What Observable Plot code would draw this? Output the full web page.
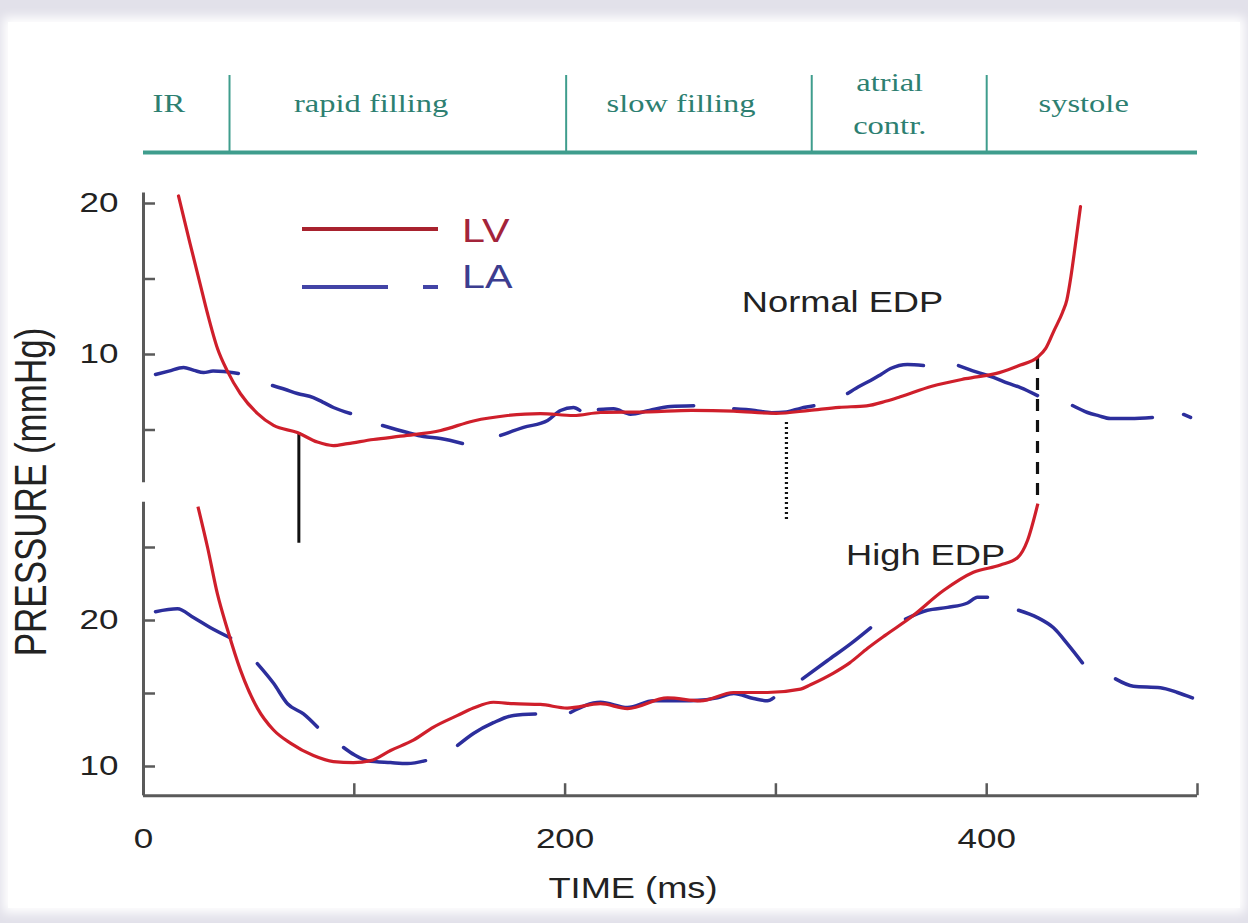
<!DOCTYPE html>
<html>
<head>
<meta charset="utf-8">
<script src="https://cdn.jsdelivr.net/npm/d3@7"></script>
<script src="https://cdn.jsdelivr.net/npm/@observablehq/plot@0.6"></script>
<style>
  html, body { margin: 0; padding: 0; background: #e2e1ea; }
  #frame { position: relative; width: 1248px; height: 923px; overflow: hidden; background: #e2e1ea; }
  #paper { position: absolute; left: 8px; top: 22px; width: 1232px; height: 886px; background: #fff; box-shadow: 0 0 10px 5px #fff; }
  .layer { position: absolute; left: 0; top: 0; }
  .t { position: absolute; font-family: "Liberation Sans", Arial, sans-serif; color: #222; white-space: nowrap; line-height: 1; }
</style>
</head>
<body>
<div id="frame">
  <div id="paper"></div>
  <div id="chart" class="layer"></div>
  <div class="t" style="left:30px; top:492px; font-size:35px; transform: translate(-50%,-50%) rotate(-90deg) scaleY(1.25);">PRESSURE (mmHg)</div>
  <div class="t" style="left:633px; top:888px; font-size:29px; transform: translate(-50%,-50%) scaleX(1.25);">TIME (ms)</div>
  <!-- legend -->
  <div style="position:absolute; left:302px; top:227px; width:136px; height:4px; background:#a8222e;"></div>
  <div style="position:absolute; left:302px; top:285px; width:86px; height:4px; background:#4244a6;"></div>
  <div style="position:absolute; left:423px; top:285px; width:15px; height:4px; background:#4244a6;"></div>
  <div class="t" style="left:462px; top:230px; font-size:33px; color:#a3243a; transform-origin:0 50%; transform: translateY(-50%) scaleX(1.25);">LV</div>
  <div class="t" style="left:462px; top:276px; font-size:33px; color:#3c3d8f; transform-origin:0 50%; transform: translateY(-50%) scaleX(1.25);">LA</div>
</div>
<script>
// ---------------- data ----------------
// cardiac phases (ms)
const phaseDividers = [40.8, 200.5, 317, 400];
const phaseLabels = ["IR", "rapid filling", "slow filling", "atrial\ncontr.", "systole"];
const phaseLabelTimes = [12, 108, 255, 354, 446];

// axes
const xTicks = [0, 100, 200, 300, 400, 500];
const xTickLabels = [0, 200, 400];
const upperTicks = [5, 10, 15, 20];
const upperTickLabels = [10, 20];
const lowerTicks = [10, 15, 20, 25];
const lowerTickLabels = [10, 20];
const upperAxisRange = [1.5, 20.7];
const lowerAxisRange = [8, 28.1];

// Normal EDP: LV pressure [ms, mmHg]
const normalLV = [[16.6,20.5],[22,17.4],[27,14.6],[30.4,12.7],[35.1,10.4],[39.8,8.9],[46,7.4],[54,6.1],[61.7,5.3],[73,4.83],[82.5,4.2],[90,3.97],[96.8,4.1],[109,4.37],[125,4.64],[141,4.97],[156.5,5.6],[172.7,5.96],[188.3,6.09],[204,5.96],[216.8,6.16],[240,6.2],[260,6.3],[280,6.25],[300,6.1],[316,6.3],[330,6.5],[343,6.6],[352,6.9],[359,7.2],[374,7.9],[390,8.4],[406,8.8],[416,9.3],[424,9.8],[428,10.4],[432,11.6],[436,12.8],[438,13.6],[440,15.2],[442,17.2],[444.5,19.8]];
// Normal EDP: LA pressure (dashed trace; null = gap between dashes)
const normalLA = [[5.7,8.68],[12,8.9],[19,9.14],[24,8.95],[28.5,8.8],[33,8.9],[38,8.87],[45,8.74],[53,null],
  [61.2,7.95],[67,7.7],[73,7.42],[80.6,7.15],[85,6.85],[90.1,6.49],[98.2,6.09],[105,null],
  [113.4,5.3],[125.2,4.83],[132.8,4.57],[140.9,4.44],[151.3,4.11],[160,null],
  [169.4,4.64],[180.3,5.17],[191.7,5.63],[197.8,6.29],[204,6.49],[207,6.3],[211,null],
  [215.8,6.35],[223,6.4],[231,6.05],[240,6.3],[250,6.55],[261,6.6],[270,null],
  [280,6.4],[290,6.3],[298,6.15],[305,6.2],[312,6.45],[318,6.6],[326,null],
  [334,7.42],[339,7.85],[344.9,8.28],[350,8.7],[354.4,9.07],[362.4,9.34],[370,9.27],[378,null],
  [386.6,9.27],[395,8.85],[403.2,8.48],[410,8.1],[416,7.81],[424.1,7.28],[432,null],
  [440.7,6.62],[447.8,6.16],[453,5.95],[458.7,5.76],[468.2,5.76],[478.6,5.83],[486,null],
  [493.4,6.03],[496.7,5.83]];

// High EDP: LV pressure
const highLV = [[26,27.7],[30.4,25.0],[35.1,21.8],[39.8,19.4],[46,16.6],[54,14.0],[61.7,12.5],[69.7,11.6],[80.6,10.75],[90.1,10.34],[99.6,10.27],[107.7,10.4],[117.2,11.1],[128,11.8],[137.6,12.7],[149,13.5],[156.5,14.0],[166,14.4],[175.5,14.3],[188.3,14.25],[201,14.0],[216.8,14.3],[229.6,13.97],[248.6,14.7],[264.2,14.5],[279.9,15.07],[296,15.07],[311.7,15.3],[316.4,15.6],[327.3,16.4],[335,17.1],[343.5,18.1],[352,19.0],[363.9,20.2],[379.5,22.05],[393.7,23.3],[406.5,23.8],[414.6,24.3],[419.4,25.5],[424.1,27.9]];
// High EDP: LA pressure
const highLA = [[5.7,20.6],[16.1,20.8],[23.7,20.2],[31.8,19.5],[41.3,18.8],[48,null],
  [54,17.05],[61.7,15.7],[68.3,14.3],[75.9,13.6],[82.5,12.7],[88,null],
  [94.9,11.3],[100,10.8],[106.3,10.4],[117.2,10.27],[125.2,10.2],[133.8,10.4],[141,null],
  [149,11.44],[156.5,12.26],[166,13.0],[175.5,13.5],[186,13.6],[194,null],
  [202.6,13.7],[216.8,14.4],[229.6,14.04],[242,14.5],[259.5,14.5],[272.3,14.7],[280,15.0],[289.4,14.66],[296,14.5],[298.9,14.7],[305,null],
  [312.6,16.0],[324.5,17.26],[335.4,18.4],[344.9,19.5],[353,null],
  [361.5,20.1],[371.9,20.7],[381.4,20.9],[390.9,21.2],[395.6,21.6],[400.4,21.6],[408,null],
  [415.1,20.7],[424.1,20.2],[431.7,19.5],[438.3,18.4],[445.4,17.1],[453,null],
  [461.1,16.0],[469.6,15.5],[482.4,15.4],[490.5,15.07],[497.6,14.7]];

// event markers (normal-EDP scale): time, from, to, line style
const markers = [
  {t: 73.7, top: 4.83, bottom: -2.5, style: "solid"},
  {t: 305, top: 5.5, bottom: -1.1, style: "dotted"},
  {t: 424.1, top: 9.8, bottom: 0.05, style: "dashed"}
];

const panelNotes = [{t: 331.6, p: 13.4, text: "Normal EDP"}];
const highNotes = [{t: 371, p: 24.45, text: "High EDP"}];

// ---------------- drawing ----------------
const RED = "#cf1f2b", BLUE = "#2c2e9c", AXIS = "#5a5a5a", TEAL = "#3f9d8d";
const FONT = "Liberation Sans, Arial, sans-serif";
const base = {
  width: 1248, height: 923,
  marginLeft: 143, marginRight: 51, marginTop: 0, marginBottom: 0,
  x: {domain: [0, 500], range: [143, 1197], axis: null}
};
const X = d => d[0], Y = d => d[1];
const dashOf = {solid: null, dotted: "2,3", dashed: "12,9"};

const phasePlot = Plot.plot({
  ...base,
  y: {domain: [0, 1], range: [152, 75], axis: null},
  marks: [
    Plot.ruleX(phaseDividers, {x: d => d, y1: 0, y2: 1, stroke: TEAL, strokeWidth: 2}),
    Plot.ruleY([0], {x1: 0, x2: 500, stroke: TEAL, strokeWidth: 4}),
    Plot.text(phaseLabels, {x: (d, i) => phaseLabelTimes[i], y: () => 0.7, text: d => d,
      fontFamily: "Liberation Serif, Times New Roman, serif", fontSize: 26, fill: "#2d7f71", lineHeight: 1.65})
  ]
});

const markerMarks = Object.keys(dashOf).map(s =>
  Plot.ruleX(markers.filter(m => m.style === s), {x: "t", y1: "top", y2: "bottom",
    stroke: "#111", strokeWidth: s === "solid" ? 3 : 3.2, ...(dashOf[s] ? {strokeDasharray: dashOf[s]} : {})})
);

const upperPlot = Plot.plot({
  ...base,
  y: {domain: [10, 20], range: [354, 203], axis: null},
  marks: [
    Plot.ruleX([0], {x: d => d, y1: upperAxisRange[0], y2: upperAxisRange[1], stroke: AXIS, strokeWidth: 3}),
    Plot.ruleY(upperTicks, {y: d => d, x1: 0, x2: 5.7, stroke: AXIS, strokeWidth: 2.5}),
    Plot.text(upperTickLabels, {x: () => 0, y: d => d, text: d => String(d), textAnchor: "end", dx: -25,
      fontSize: 28, fontFamily: FONT, fill: "#222"}),
    ...markerMarks,
    Plot.line(normalLA, {x: X, y: Y, stroke: BLUE, strokeWidth: 3.5, curve: "monotone-x", strokeLinecap: "round"}),
    Plot.line(normalLV, {x: X, y: Y, stroke: RED, strokeWidth: 3.2, curve: "monotone-x"}),
    Plot.text(panelNotes, {x: "t", y: "p", text: "text", fontSize: 29, fontFamily: FONT, fill: "#222"})
  ]
});

const lowerPlot = Plot.plot({
  ...base,
  y: {domain: [10, 20], range: [766, 620], axis: null},
  marks: [
    Plot.ruleX([0], {x: d => d, y1: lowerAxisRange[0], y2: lowerAxisRange[1], stroke: AXIS, strokeWidth: 3}),
    Plot.ruleY([lowerAxisRange[0]], {y: d => d, x1: 0, x2: 500, stroke: AXIS, strokeWidth: 3}),
    Plot.ruleY(lowerTicks, {y: d => d, x1: 0, x2: 5.7, stroke: AXIS, strokeWidth: 2.5}),
    Plot.ruleX(xTicks, {x: d => d, y1: lowerAxisRange[0], y2: lowerAxisRange[0] + 0.82, stroke: AXIS, strokeWidth: 2.5}),
    Plot.text(lowerTickLabels, {x: () => 0, y: d => d, text: d => String(d), textAnchor: "end", dx: -25,
      fontSize: 28, fontFamily: FONT, fill: "#222"}),
    Plot.text(xTickLabels, {x: d => d, y: () => lowerAxisRange[0], text: d => String(d), dy: 43,
      fontSize: 28, fontFamily: FONT, fill: "#222"}),
    Plot.line(highLA, {x: X, y: Y, stroke: BLUE, strokeWidth: 3.5, curve: "monotone-x", strokeLinecap: "round"}),
    Plot.line(highLV, {x: X, y: Y, stroke: RED, strokeWidth: 3.2, curve: "monotone-x", strokeLinecap: "square"}),
    Plot.text(highNotes, {x: "t", y: "p", text: "text", fontSize: 29, fontFamily: FONT, fill: "#222"})
  ]
});

// the reference is horizontally stretched: widen glyphs around their anchor
function stretchText(svg, k) {
  svg.querySelectorAll("text").forEach(t => {
    const tr = t.getAttribute("transform");
    if (tr) t.setAttribute("transform", tr + ` scale(${k},1)`);
    else {
      const x = +t.getAttribute("x") || 0, y = +t.getAttribute("y") || 0;
      t.setAttribute("transform", `translate(${x},${y}) scale(${k},1) translate(${-x},${-y})`);
    }
  });
}

const chart = document.getElementById("chart");
for (const svg of [phasePlot, upperPlot, lowerPlot]) {
  stretchText(svg, 1.25);
  svg.style.position = "absolute";
  svg.style.left = "0px";
  svg.style.top = "0px";
  svg.style.background = "transparent";
  svg.style.overflow = "visible";
  svg.style.maxWidth = "none";
  chart.appendChild(svg);
}
</script>
</body>
</html>
